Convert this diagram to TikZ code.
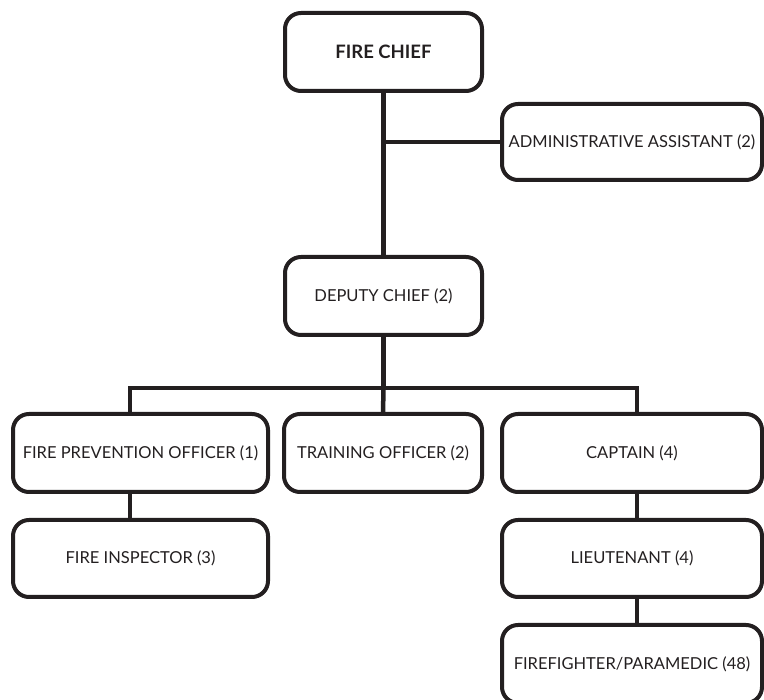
\documentclass[tikz,border=0pt]{standalone}
\usepackage{fontspec}
\setmainfont{Lato}
\definecolor{ink}{HTML}{231F20}
\begin{document}
\begin{tikzpicture}[x=1pt,y=-1pt,
  box/.style={draw=ink, line width=4pt, rounded corners=16pt, text=ink,
    font=\fontsize{16.5}{18}\selectfont, inner sep=0pt, outer sep=0pt},
  link/.style={draw=ink, line width=4.5pt, line join=miter}]
\useasboundingbox (0,0) rectangle (764,700);
\node[box, minimum width=197pt, minimum height=78pt, font=\fontsize{18.5}{20}\selectfont\bfseries] (chief) at (383.5,52) {FIRE CHIEF};
\node[box, minimum width=260pt, minimum height=76pt] (admin) at (632,142) {ADMINISTRATIVE ASSISTANT (2)};
\node[box, minimum width=197pt, minimum height=78pt] (deputy) at (383.5,296) {DEPUTY CHIEF (2)};
\node[box, minimum width=255pt, minimum height=78pt] (fpo) at (140.5,453) {FIRE PREVENTION OFFICER (1)};
\node[box, minimum width=198pt, minimum height=78pt] (training) at (383,453) {TRAINING OFFICER (2)};
\node[box, minimum width=260pt, minimum height=78pt] (captain) at (632,453) {CAPTAIN (4)};
\node[box, minimum width=255pt, minimum height=77pt] (fi) at (140.5,558.5) {FIRE INSPECTOR (3)};
\node[box, minimum width=260pt, minimum height=77pt] (lt) at (632,558.5) {LIEUTENANT (4)};
\node[box, minimum width=260pt, minimum height=78pt] (ff) at (632,664) {FIREFIGHTER/PARAMEDIC (48)};
\coordinate (j1) at (383.5,142);
\coordinate (bus) at (383.5,388);
\coordinate (b1) at (130,388);
\coordinate (b3) at (637,388);
\draw[link] (chief.south) -- (deputy.north);
\draw[link] (j1) -- (admin.west);
\draw[link] (deputy.south) -- (bus);
\draw[link] (b1 |- fpo.north) -- (b1) -- (b3) -- (b3 |- captain.north);
\draw[link] (bus) -- (training.north);
\draw[link] (b1 |- fpo.south) -- (b1 |- fi.north);
\draw[link] (b3 |- captain.south) -- (b3 |- lt.north);
\draw[link] (b3 |- lt.south) -- (b3 |- ff.north);
\end{tikzpicture}
\end{document}
